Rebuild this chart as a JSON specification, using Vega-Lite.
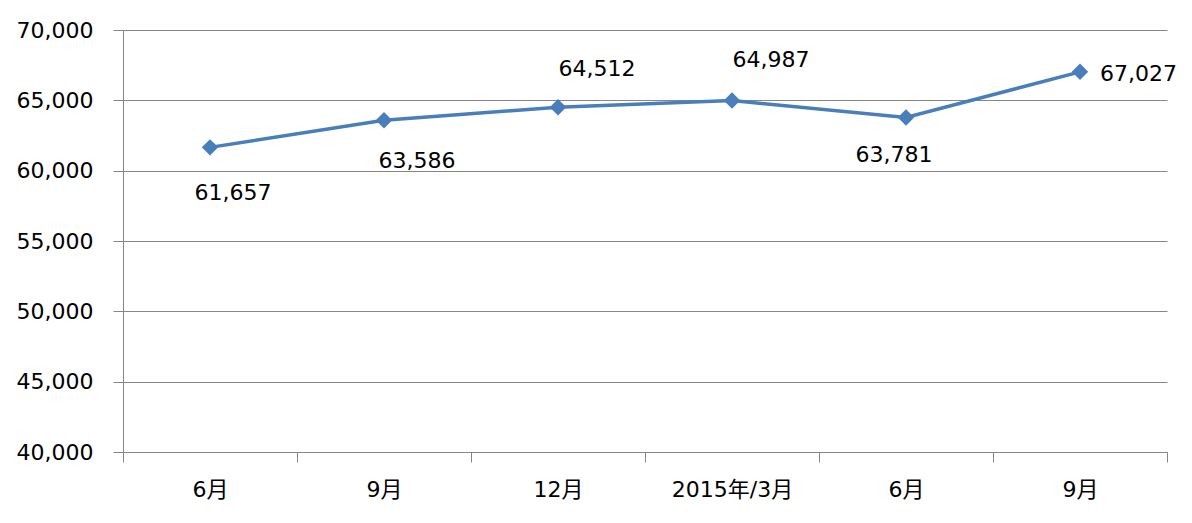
{
  "$schema": "https://vega.github.io/schema/vega-lite/v6.json",
  "autosize": "none",
  "width": 1044,
  "height": 422,
  "padding": {"left": 123, "top": 30, "right": 25, "bottom": 71},
  "background": "white",
  "config": {
    "font": "DejaVu Sans, Noto Sans CJK JP",
    "view": {"stroke": null},
    "axis": {
      "labelFont": "DejaVu Sans, Noto Sans CJK JP",
      "labelFontSize": 22,
      "labelColor": "#000000",
      "domainColor": "#868686",
      "tickColor": "#868686",
      "gridColor": "#868686",
      "tickSize": 10,
      "title": null
    }
  },
  "data": {
    "values": [
      {"period": "2014-06", "value": 61657},
      {"period": "2014-09", "value": 63586},
      {"period": "2014-12", "value": 64512},
      {"period": "2015-03", "value": 64987},
      {"period": "2015-06", "value": 63781},
      {"period": "2015-09", "value": 67027}
    ]
  },
  "encoding": {
    "x": {
      "field": "period",
      "type": "ordinal",
      "sort": null,
      "scale": {"type": "band", "paddingInner": 0, "paddingOuter": 0},
      "axis": {
        "labelAngle": 0,
        "tickBand": "extent",
        "labelPadding": 17,
        "labelExpr": "!datum.value ? '' : (datum.value == '2015-03' ? '2015年/3月' : toNumber(substring(datum.value, 5)) + '月')"
      }
    },
    "y": {
      "field": "value",
      "type": "quantitative",
      "scale": {"domain": [40000, 70000], "nice": false, "zero": false},
      "axis": {"values": [40000, 45000, 50000, 55000, 60000, 65000, 70000], "format": ",.0f", "labelPadding": 20, "grid": true, "domain": true}
    }
  },
  "layer": [
    {"mark": {"type": "line", "color": "#4A7EBB", "strokeWidth": 3.5}},
    {"mark": {"type": "point", "shape": "diamond", "filled": true, "size": 270, "color": "#4A7EBB", "opacity": 1}},
    {
      "transform": [{"filter": "datum.period == '2014-06'"}],
      "mark": {"type": "text", "fontSize": 22, "color": "#000000", "dx": 23, "dy": 46},
      "encoding": {"text": {"field": "value", "type": "quantitative", "format": ","}}
    },
    {
      "transform": [{"filter": "datum.period == '2014-09'"}],
      "mark": {"type": "text", "fontSize": 22, "color": "#000000", "dx": 33, "dy": 41},
      "encoding": {"text": {"field": "value", "type": "quantitative", "format": ","}}
    },
    {
      "transform": [{"filter": "datum.period == '2014-12'"}],
      "mark": {"type": "text", "fontSize": 22, "color": "#000000", "dx": 39, "dy": -38},
      "encoding": {"text": {"field": "value", "type": "quantitative", "format": ","}}
    },
    {
      "transform": [{"filter": "datum.period == '2015-03'"}],
      "mark": {"type": "text", "fontSize": 22, "color": "#000000", "dx": 39, "dy": -41},
      "encoding": {"text": {"field": "value", "type": "quantitative", "format": ","}}
    },
    {
      "transform": [{"filter": "datum.period == '2015-06'"}],
      "mark": {"type": "text", "fontSize": 22, "color": "#000000", "dx": -12, "dy": 38},
      "encoding": {"text": {"field": "value", "type": "quantitative", "format": ","}}
    },
    {
      "transform": [{"filter": "datum.period == '2015-09'"}],
      "mark": {"type": "text", "fontSize": 22, "color": "#000000", "align": "left", "dx": 20, "dy": 2},
      "encoding": {"text": {"field": "value", "type": "quantitative", "format": ","}}
    }
  ]
}
